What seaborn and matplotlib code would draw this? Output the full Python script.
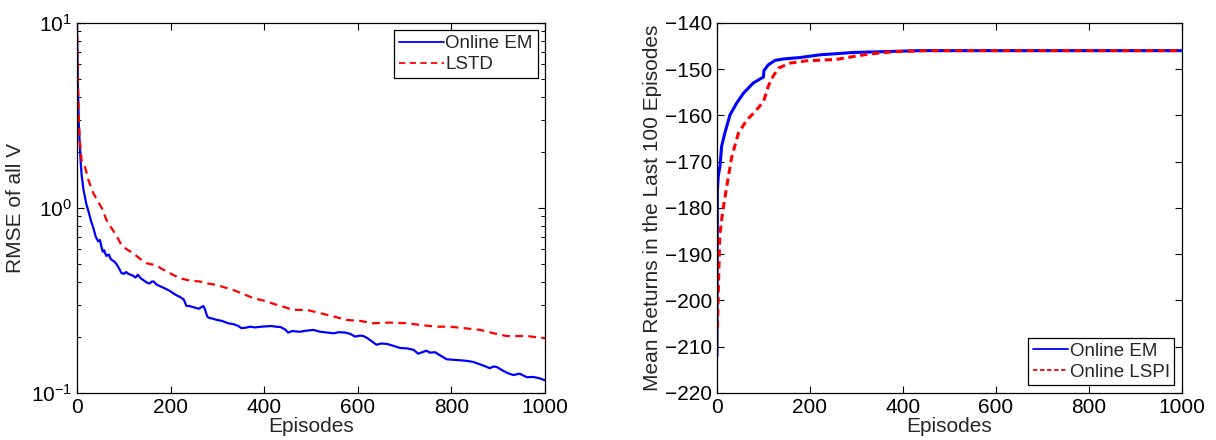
import numpy as np
import pandas as pd
import matplotlib
matplotlib.use("Agg")
import matplotlib.pyplot as plt
import seaborn as sns
from matplotlib.ticker import LogLocator, FixedLocator

# ---- RMSE of value estimates (left panel) ----
em_rmse_ep = [0, 2, 4, 6, 8, 10, 14, 20, 25, 30, 35, 40, 45, 49, 52, 55, 58, 60, 63, 68,
              72, 76, 81, 86, 90, 95, 100, 105, 110, 115, 120, 125, 130, 135, 140, 149, 155,
              160, 164, 170, 180, 190, 199, 210, 220, 228, 234, 240, 250, 260, 265, 270, 273,
              278, 281, 290, 299, 310, 323, 335, 345, 351, 360, 370, 380, 394, 405, 415, 425,
              435, 445, 451, 460, 476, 490, 505, 520, 535, 548, 560, 573, 585, 594, 605, 612,
              620, 630, 640, 650, 662, 675, 690, 705, 719, 729, 738, 746, 755, 765, 775, 790,
              805, 820, 833, 847, 860, 870, 882, 890, 897, 910, 920, 932, 946, 961, 975, 988,
              1000]
em_rmse = [10, 4.5, 2.8, 2.2, 1.75, 1.5, 1.25, 1.05, 0.95, 0.85, 0.78, 0.70, 0.66, 0.67,
           0.62, 0.58, 0.59, 0.57, 0.55, 0.56, 0.53, 0.52, 0.51, 0.49, 0.47, 0.445, 0.44,
           0.45, 0.44, 0.435, 0.43, 0.42, 0.435, 0.42, 0.41, 0.395, 0.39, 0.40, 0.40, 0.385,
           0.375, 0.365, 0.355, 0.34, 0.33, 0.32, 0.295, 0.295, 0.29, 0.285, 0.29, 0.295,
           0.285, 0.26, 0.255, 0.252, 0.248, 0.245, 0.238, 0.235, 0.23, 0.224, 0.225, 0.228,
           0.226, 0.228, 0.229, 0.23, 0.228, 0.227, 0.22, 0.212, 0.216, 0.214, 0.217, 0.219,
           0.214, 0.212, 0.21, 0.213, 0.212, 0.208, 0.2015, 0.204, 0.203, 0.198, 0.19, 0.182,
           0.185, 0.184, 0.18, 0.175, 0.174, 0.171, 0.163, 0.166, 0.169, 0.165, 0.166, 0.16,
           0.152, 0.151, 0.150, 0.149, 0.147, 0.143, 0.14, 0.136, 0.139, 0.138, 0.132, 0.128,
           0.125, 0.127, 0.1216, 0.122, 0.12, 0.117]

lstd_rmse_ep = [0, 2, 4, 6, 10, 17, 25, 35, 45, 53, 63, 72, 81, 88, 95, 105, 120, 135, 149,
                160, 170, 180, 192, 205, 220, 240, 263, 280, 298, 315, 334, 355, 377, 400, 427,
                445, 462, 491, 519, 548, 576, 605, 633, 669, 705, 733, 769, 797, 826, 862, 890,
                918, 961, 997, 1000]
lstd_rmse = [10, 5, 3, 2.33, 1.8, 1.67, 1.4, 1.2, 1.08, 1.0, 0.86, 0.79, 0.73, 0.68, 0.63,
             0.60, 0.569, 0.53, 0.502, 0.495, 0.49, 0.47, 0.453, 0.435, 0.417, 0.405, 0.40,
             0.39, 0.384, 0.372, 0.36, 0.343, 0.325, 0.315, 0.299, 0.29, 0.281, 0.281, 0.27,
             0.259, 0.248, 0.245, 0.238, 0.240, 0.238, 0.233, 0.228, 0.228, 0.224, 0.219,
             0.21, 0.203, 0.203, 0.198, 0.197]

# ---- Mean returns over the last 100 episodes (right panel) ----
em_ret_ep = [0, 1, 3, 6.5, 10, 17, 28, 42, 57, 78, 100, 101, 105, 110, 125, 143, 178, 222,
             293, 365, 437, 500, 600, 700, 800, 900, 1000]
em_ret = [-212, -176, -173, -171, -166.7, -163.8, -159.9, -157.4, -155.2, -153.0, -151.7,
          -150.3, -149.8, -149.1, -148.1, -147.8, -147.5, -146.9, -146.4, -146.2, -146.0,
          -146.0, -146.0, -146.0, -146.0, -146.0, -146.0]

lspi_ret_ep = [1, 6, 12, 21, 32, 46, 64, 82, 100, 105, 110, 118, 132, 157, 193, 257, 286,
               329, 386, 450, 600, 800, 1000]
lspi_ret = [-206, -186, -181, -175.4, -168.9, -163.9, -161.0, -159.2, -157.0, -155.5, -153.8,
            -152.0, -149.8, -148.7, -148.2, -147.9, -147.4, -146.7, -146.2, -146.0, -146.0,
            -146.0, -146.0]

x_ticks = [0, 200, 400, 600, 800, 1000]
ret_ticks = [-220, -210, -200, -190, -180, -170, -160, -150, -140]

sns.set_style("ticks", {"xtick.direction": "in", "ytick.direction": "in"})
plt.rcParams["font.family"] = ["Liberation Sans", "DejaVu Sans"]
plt.rcParams["axes.unicode_minus"] = True

fig = plt.figure(figsize=(12.16, 4.4), dpi=100)
ax1 = fig.add_axes([0.0633, 0.107, 0.3849, 0.841])
ax2 = fig.add_axes([0.5896, 0.107, 0.3824, 0.841])

rmse_df = pd.concat([
    pd.DataFrame({"Episodes": em_rmse_ep, "value": em_rmse, "method": "Online EM"}),
    pd.DataFrame({"Episodes": lstd_rmse_ep, "value": lstd_rmse, "method": "LSTD"}),
])
ret_df = pd.concat([
    pd.DataFrame({"Episodes": em_ret_ep, "value": em_ret, "method": "Online EM"}),
    pd.DataFrame({"Episodes": lspi_ret_ep, "value": lspi_ret, "method": "Online LSPI"}),
])

sns.lineplot(data=rmse_df, x="Episodes", y="value", hue="method", style="method",
             palette={"Online EM": "#0000ff", "LSTD": "#ff0000"},
             dashes={"Online EM": "", "LSTD": (3.5, 2.4)},
             estimator=None, sort=False, linewidth=1.6, ax=ax1)
sns.lineplot(data=ret_df, x="Episodes", y="value", hue="method", style="method",
             palette={"Online EM": "#0000ff", "Online LSPI": "#ff0000"},
             dashes={"Online EM": "", "Online LSPI": (2.4, 1.5)},
             estimator=None, sort=False, linewidth=2.2, ax=ax2)

fs = 15
for ax in (ax1, ax2):
    ax.set_xlim(0, 1000)
    ax.xaxis.set_major_locator(FixedLocator(x_ticks))
    ax.tick_params(which="both", direction="in", top=True, right=True,
                   labelsize=fs, colors="black", width=0.8)
    ax.tick_params(which="major", length=5)
    ax.set_xlabel("Episodes", fontsize=fs, labelpad=0)
    for s in ax.spines.values():
        s.set_visible(True)
        s.set_color("black")
        s.set_linewidth(0.9)

ax1.set_yscale("log")
ax1.set_ylim(0.1, 10)
ax1.yaxis.set_major_locator(LogLocator(base=10, numticks=5))
ax1.yaxis.set_minor_locator(LogLocator(base=10, subs=np.arange(2, 10), numticks=20))
ax1.tick_params(which="minor", length=3, width=0.7)
ax1.set_ylabel("RMSE of all V", fontsize=fs, labelpad=4)

ax2.set_ylim(-220, -140)
ax2.yaxis.set_major_locator(FixedLocator(ret_ticks))
ax2.set_ylabel("Mean Returns in the Last 100 Episodes", fontsize=fs, labelpad=2)

for ax, loc, hl in ((ax1, "upper right", 2.4), (ax2, "lower right", 1.85)):
    leg = ax.legend(loc=loc, fontsize=13.5, frameon=True, fancybox=False,
                    edgecolor="black", framealpha=1, borderpad=0.25,
                    handlelength=hl, handletextpad=0.1, labelspacing=0.2,
                    borderaxespad=0.4)
    leg.get_frame().set_linewidth(0.9)
    for line in leg.get_lines():
        line.set_linewidth(1.3)

fig.savefig("out.png", dpi=100)
